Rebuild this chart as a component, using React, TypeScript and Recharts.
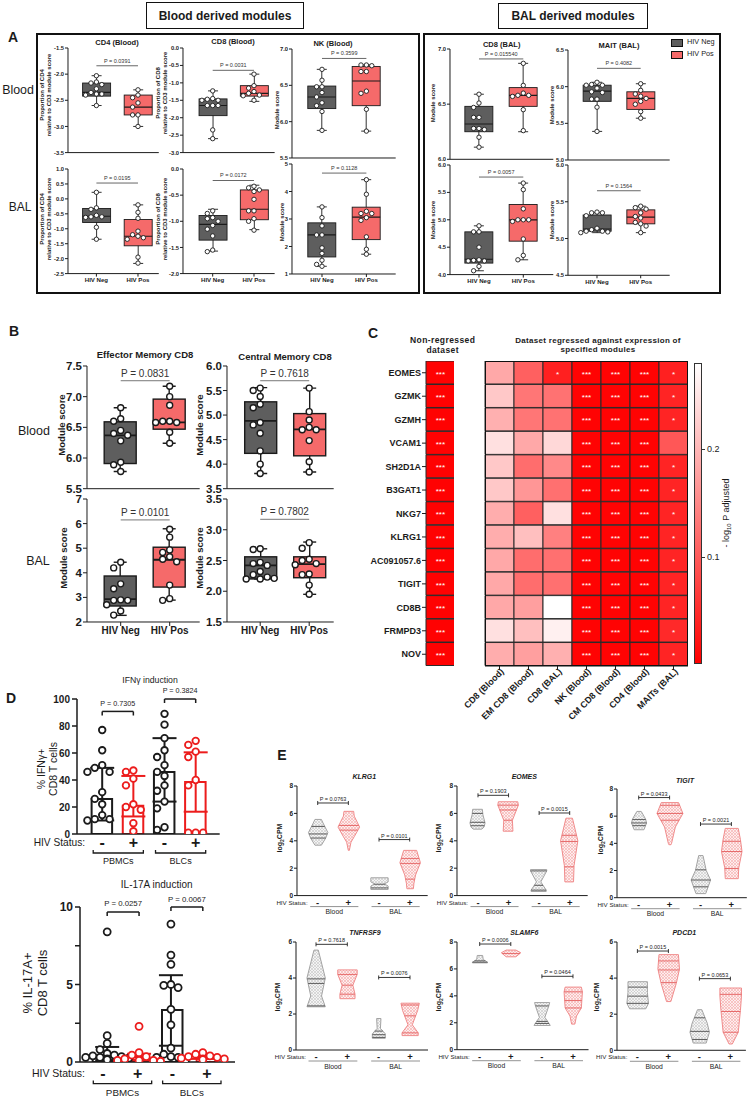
import React from 'react';
import {
  ComposedChart,
  BarChart,
  Bar,
  Scatter,
  XAxis,
  YAxis,
  ReferenceLine,
  ErrorBar,
  Cell,
  LabelList,
} from 'recharts';

const FONT = '"Liberation Sans", Arial, sans-serif';
const INK = '#1b1b1b';
const NEG_BOX = '#5e5e5e';
const POS_BOX = '#f56a6a';
const D_RED = '#ec1c1c';

// ---------- A: module scores, each group is [min, q1, median, q3, max] ----------
const groupsA = ['HIV Neg', 'HIV Pos'];

const cd4BloodStats = [[-2.6, -2.42, -2.35, -2.17, -2.03], [-3.0, -2.78, -2.63, -2.4, -2.3]];
const cd4BloodPts = [
  [-2.03, -2.15, -2.17, -2.2, -2.28, -2.35, -2.38, -2.38, -2.4, -2.6],
  [-2.3, -2.4, -2.45, -2.55, -2.63, -2.78, -2.78, -3.0],
];
const cd8BloodStats = [[-2.6, -1.94, -1.65, -1.46, -1.23], [-1.53, -1.38, -1.3, -1.08, -0.75]];
const cd8BloodPts = [
  [-1.23, -1.45, -1.47, -1.5, -1.5, -1.65, -1.65, -1.65, -2.35, -2.6],
  [-0.75, -1.08, -1.15, -1.25, -1.3, -1.35, -1.37, -1.5],
];
const nkBloodStats = [[5.88, 6.18, 6.34, 6.49, 6.72], [5.87, 6.22, 6.56, 6.76, 6.78]];
const nkBloodPts = [
  [6.72, 6.57, 6.48, 6.48, 6.4, 6.34, 6.26, 6.22, 6.14, 5.88],
  [6.78, 6.78, 6.77, 6.69, 6.69, 6.42, 6.39, 6.17, 5.87],
];
const cd4BalStats = [[-1.35, -0.79, -0.58, -0.32, 0.22], [-2.16, -1.57, -1.25, -0.69, -0.2]];
const cd4BalPts = [
  [0.22, -0.3, -0.35, -0.55, -0.6, -0.6, -0.62, -0.95, -1.35],
  [-0.2, -0.45, -0.65, -1.08, -1.2, -1.25, -1.3, -1.35, -1.95, -2.15],
];
const cd8BalStats = [[-1.57, -1.36, -1.06, -0.89, -0.77], [-1.16, -0.97, -0.77, -0.4, -0.31]];
const cd8BalPts = [
  [-0.8, -0.85, -0.93, -0.95, -1.0, -1.08, -1.15, -1.28, -1.55, -1.58],
  [-0.33, -0.36, -0.4, -0.43, -0.58, -0.8, -0.8, -0.95, -1.0, -1.17],
];
const nkBalStats = [[1.28, 1.62, 2.42, 2.86, 3.44], [1.72, 2.25, 3.07, 3.43, 4.43]];
const nkBalPts = [
  [3.44, 3.05, 2.75, 2.42, 2.42, 1.95, 1.75, 1.5, 1.35, 1.28],
  [4.43, 3.9, 3.28, 3.2, 3.2, 3.05, 2.95, 2.35, 1.9, 1.72],
];
const cd8ModBloodStats = [[6.11, 6.25, 6.32, 6.48, 6.59], [6.25, 6.48, 6.58, 6.65, 6.87]];
const cd8ModBloodPts = [
  [6.59, 6.51, 6.47, 6.38, 6.38, 6.28, 6.28, 6.27, 6.2, 6.11],
  [6.87, 6.67, 6.6, 6.58, 6.58, 6.57, 6.45, 6.26],
];
const maitBloodStats = [[5.39, 5.8, 5.94, 6.02, 6.06], [5.57, 5.69, 5.84, 5.93, 6.04]];
const maitBloodPts = [
  [6.06, 6.03, 6.02, 6.02, 5.98, 5.93, 5.92, 5.83, 5.83, 5.72, 5.39],
  [6.04, 5.95, 5.9, 5.87, 5.84, 5.8, 5.76, 5.66, 5.57],
];
const cd8ModBalStats = [[4.07, 4.21, 4.28, 4.78, 4.89], [4.27, 4.61, 5.0, 5.28, 5.67]];
const cd8ModBalPts = [
  [4.89, 4.78, 4.78, 4.5, 4.27, 4.26, 4.25, 4.25, 4.15, 4.07],
  [5.67, 5.55, 5.2, 5.0, 5.0, 5.0, 4.97, 4.65, 4.35, 4.27],
];
const maitBalStats = [[5.08, 5.1, 5.13, 5.32, 5.35], [5.08, 5.2, 5.29, 5.39, 5.44]];
const maitBalPts = [
  [5.36, 5.35, 5.35, 5.31, 5.14, 5.12, 5.1, 5.1, 5.09, 5.08],
  [5.44, 5.42, 5.4, 5.35, 5.3, 5.28, 5.22, 5.2, 5.17, 5.08],
];

// ---------- B: effector / central memory CD8 ----------
const emBloodStats = [[5.78, 5.91, 6.37, 6.59, 6.82], [6.24, 6.47, 6.58, 6.96, 7.17]];
const emBloodPts = [
  [6.82, 6.64, 6.6, 6.45, 6.4, 6.37, 6.28, 5.93, 5.89, 5.78],
  [7.17, 7.0, 6.86, 6.6, 6.6, 6.58, 6.58, 6.42, 6.24],
];
const cmBloodStats = [[3.81, 4.22, 4.88, 5.27, 5.56], [3.84, 4.17, 4.71, 5.03, 5.55]];
const cmBloodPts = [
  [5.55, 5.5, 5.38, 5.22, 5.15, 4.85, 4.8, 4.63, 4.27, 4.0, 3.81],
  [5.55, 5.07, 4.9, 4.75, 4.7, 4.7, 4.48, 4.05, 3.84],
];
const emBalStats = [[2.27, 2.65, 2.93, 3.87, 4.43], [2.89, 3.42, 4.53, 5.04, 5.79]];
const emBalPts = [
  [4.43, 4.2, 3.55, 3.35, 2.9, 2.88, 2.88, 2.7, 2.45, 2.28],
  [5.77, 5.45, 4.93, 4.83, 4.65, 4.55, 4.45, 3.5, 2.95, 2.88],
];
const cmBalStats = [[2.2, 2.2, 2.42, 2.56, 2.69], [1.95, 2.22, 2.44, 2.56, 2.8]];
const cmBalPts = [
  [2.69, 2.68, 2.47, 2.45, 2.42, 2.32, 2.27, 2.23, 2.2, 2.2, 2.21],
  [2.79, 2.7, 2.52, 2.5, 2.45, 2.43, 2.28, 2.27, 2.1, 1.95],
];

// ---------- C: heatmap ----------
const genes = ['EOMES', 'GZMK', 'GZMH', 'VCAM1', 'SH2D1A', 'B3GAT1', 'NKG7', 'KLRG1', 'AC091057.6', 'TIGIT', 'CD8B', 'FRMPD3', 'NOV'];
const modules = ['CD8 (Blood)', 'EM CD8 (Blood)', 'CD8 (BAL)', 'NK (Blood)', 'CM CD8 (Blood)', 'CD4 (Blood)', 'MAITs (BAL)'];
const pNonRegressed = [0.002, 0.002, 0.002, 0.002, 0.002, 0.002, 0.002, 0.002, 0.002, 0.002, 0.002, 0.002, 0.002];
const pCd8Blood = [0.185, 0.22, 0.193, 0.246, 0.22, 0.22, 0.19, 0.19, 0.185, 0.185, 0.185, 0.246, 0.19];
const pEmCd8Blood = [0.105, 0.13, 0.13, 0.185, 0.12, 0.165, 0.105, 0.21, 0.12, 0.12, 0.175, 0.21, 0.175];
const pCd8Bal = [0.035, 0.125, 0.125, 0.237, 0.15, 0.123, 0.246, 0.14, 0.123, 0.123, 0.28, 0.263, 0.193];
const pNkBlood = [0.003, 0.003, 0.003, 0.003, 0.003, 0.003, 0.003, 0.003, 0.003, 0.003, 0.003, 0.003, 0.003];
const pCmCd8Blood = [0.003, 0.003, 0.003, 0.003, 0.003, 0.003, 0.003, 0.003, 0.003, 0.003, 0.003, 0.003, 0.003];
const pCd4Blood = [0.003, 0.003, 0.003, 0.003, 0.003, 0.003, 0.003, 0.003, 0.003, 0.003, 0.003, 0.003, 0.003];
const pMaitBal = [0.035, 0.04, 0.04, 0.095, 0.04, 0.04, 0.04, 0.04, 0.04, 0.04, 0.04, 0.045, 0.04];
const starsNonRegressed = ['***', '***', '***', '***', '***', '***', '***', '***', '***', '***', '***', '***', '***'];
const starsNone = ['', '', '', '', '', '', '', '', '', '', '', '', ''];
const starsCd8Bal = ['*', '', '', '', '', '', '', '', '', '', '', '', ''];
const starsAll = ['***', '***', '***', '***', '***', '***', '***', '***', '***', '***', '***', '***', '***'];
const starsMait = ['*', '*', '*', '', '*', '*', '*', '*', '*', '*', '*', '*', '*'];
const moduleP = [pCd8Blood, pEmCd8Blood, pCd8Bal, pNkBlood, pCmCd8Blood, pCd4Blood, pMaitBal];
const moduleStars = [starsNone, starsNone, starsCd8Bal, starsAll, starsAll, starsAll, starsMait];
const HEAT_MAX = 0.28;

// ---------- D: cytokine induction ----------
const groupsD = ['PBMCs -', 'PBMCs +', 'BLCs -', 'BLCs +'];
const ifnMeans = [26, 21, 46, 38.5];
const ifnErr = [[16, 23], [8, 22], [22, 25], [22, 22]];
const ifnPts = [
  [77, 62, 51, 49, 46, 46, 31, 26, 22, 14, 11, 11, 10],
  [47, 46, 41, 36, 22, 20, 18, 8, 2],
  [89, 81, 71, 62, 57, 51, 46, 43, 36, 32, 24, 19, 5, 3],
  [69, 66, 61, 57, 40, 36, 1, 1, 1],
];
const il17Means = [0.42, 0.33, 3.35, 0.3];
const il17Err = [[0.3, 0.55], [0.2, 0.2], [2.3, 2.25], [0.1, 0.1]];
const il17Pts = [
  [8.4, 1.7, 1.2, 0.8, 0.55, 0.45, 0.4, 0.35, 0.3, 0.3, 0.25, 0.2, 0.15],
  [2.3, 0.6, 0.45, 0.35, 0.2, 0.1, 0.1, 0.1, 0.05],
  [8.9, 6.9, 6.3, 5.0, 4.95, 4.8, 3.4, 2.4, 0.9, 0.5, 0.35, 0.3, 0.3, 0.05],
  [0.6, 0.5, 0.4, 0.35, 0.3, 0.25, 0.2, 0.2, 0.15],
];

// ---------- E: violin profiles [log2CPM, relative width], quartile lines ----------
const groupsE = ['Blood -', 'Blood +', 'BAL -', 'BAL +'];
const klrg1Vio = [
  [[5.56, 0.3], [5.3, 0.45], [4.6, 0.9], [4.2, 0.7], [3.68, 0.3]],
  [[6.15, 0.45], [5.8, 0.5], [5.0, 1.0], [4.3, 0.5], [3.9, 0.2], [3.3, 0.05]],
  [[1.3, 0.8], [1.0, 0.8], [0.85, 0.45], [0.7, 0.8], [0.45, 0.8]],
  [[3.3, 0.6], [2.4, 0.95], [1.5, 0.5], [0.9, 0.35], [0.5, 0.3]],
];
const klrg1Q = [[4.2, 4.5, 5.05], [4.78, 5.12], [0.56, 0.83], [1.2, 2.35, 2.7]];
const eomesVio = [
  [[6.3, 0.45], [5.9, 0.5], [5.3, 0.7], [5.0, 0.6], [4.85, 0.4]],
  [[6.85, 0.9], [6.6, 0.95], [5.5, 0.4], [4.7, 0.45]],
  [[1.9, 0.75], [1.8, 0.75], [1.0, 0.2], [0.4, 0.7], [0.3, 0.7]],
  [[5.65, 0.3], [4.0, 0.8], [2.2, 0.45], [1.0, 0.4]],
];
const eomesQ = [[5.1, 5.35, 6.0], [5.5, 6.25, 6.6], [0.4, 0.75, 1.8], [2.1, 3.95, 4.4]];
const tigitVio = [
  [[6.35, 0.2], [5.8, 0.6], [5.5, 0.7], [5.0, 0.45]],
  [[7.0, 0.8], [6.2, 1.2], [5.2, 0.5], [4.0, 0.15], [3.9, 0.1]],
  [[3.1, 0.2], [2.0, 0.5], [1.3, 0.9], [0.3, 0.45]],
  [[5.1, 0.6], [4.3, 0.8], [3.4, 0.95], [2.2, 0.65], [1.4, 0.6]],
];
const tigitQ = [[5.3, 5.5, 5.75], [5.7, 6.2, 6.8], [0.8, 1.3, 2.05], [2.15, 3.4, 4.15]];
const tnfrsf9Vio = [
  [[5.55, 0.2], [4.0, 0.85], [3.0, 0.5], [2.4, 0.85]],
  [[4.45, 0.9], [4.2, 0.9], [3.6, 0.5], [3.1, 0.7], [2.85, 0.7]],
  [[1.75, 0.2], [1.2, 0.15], [0.9, 0.6], [0.65, 0.6]],
  [[2.6, 0.85], [2.2, 0.7], [1.4, 0.2], [0.95, 0.75], [0.8, 0.75]],
];
const tnfrsf9Q = [[2.45, 3.7, 3.95], [3.1, 3.6, 4.2], [0.7, 0.85, 1.05], [0.95, 1.9, 2.5]];
const slamf6Vio = [
  [[7.0, 0.25], [6.7, 0.3], [6.5, 0.7], [6.45, 0.7]],
  [[7.4, 0.45], [7.2, 0.9], [6.9, 0.45]],
  [[3.5, 0.7], [3.2, 0.6], [2.4, 0.25], [2.0, 0.6], [1.8, 0.75]],
  [[4.65, 0.75], [4.3, 0.85], [3.1, 0.75], [2.5, 0.3], [1.9, 0.15]],
];
const slamf6Q = [[6.5, 6.6], [7.15], [1.95, 2.1, 3.25], [3.1, 3.65, 4.3]];
const pdcd1Vio = [
  [[3.8, 0.9], [3.2, 0.9], [2.6, 1.0], [2.3, 0.75]],
  [[5.3, 0.9], [4.5, 1.0], [3.7, 0.7], [2.7, 0.2]],
  [[2.25, 0.2], [1.5, 0.7], [1.0, 0.9], [0.4, 0.6]],
  [[3.45, 1.0], [3.0, 1.0], [2.2, 0.9], [1.0, 0.7], [0.35, 0.15]],
];
const pdcd1Q = [[2.6, 3.0, 3.5], [3.75, 4.45, 4.95], [0.6, 1.05, 1.8], [1.0, 2.15, 3.1]];

// ---------- helpers ----------
function bandLayout(x0: number, c: number[], end: number) {
  const n = c.length;
  const band = (c[n - 1] - c[0]) / (n - 1);
  const pl = Math.max(0, c[0] - x0 - band / 2);
  const x1 = Math.max(end, c[n - 1] + band / 2);
  const pr = x1 - (c[n - 1] + band / 2);
  return { band, pl, pr, x1 };
}

// simple beeswarm: nudge overlapping points sideways
function swarm(vals: number[], center: number, dy: number, dx: number) {
  const placed: { x: number; y: number }[] = [];
  const steps = [0, -1, 1, -2, 2, -3, 3];
  vals.forEach((v) => {
    const k =
      steps.find(
        (s) => !placed.some((p) => Math.abs(p.y - v) < dy && Math.abs(p.x - (center + s * dx)) < dx * 0.95)
      ) ?? 0;
    placed.push({ x: center + k * dx, y: v });
  });
  return placed;
}

function T(props: any) {
  const { x, y, s, b, it, r, a = 'c', ls, c = INK, children } = props;
  const tx = a === 'c' ? '-50%' : a === 'r' ? '-100%' : '0%';
  return (
    <div
      style={{
        position: 'absolute',
        left: x,
        top: y,
        transform: `translate(${tx}, -50%)${r ? ' rotate(-90deg)' : ''}`,
        fontSize: s,
        fontWeight: b ? 700 : 400,
        fontStyle: it ? 'italic' : 'normal',
        letterSpacing: ls,
        color: c,
        whiteSpace: 'nowrap',
        lineHeight: 1.15,
        textAlign: 'center',
      }}
    >
      {children}
    </div>
  );
}

const bracket = (text: string, o: any) => (lp: any) => {
  const { x1, x2, y1 } = lp;
  return (
    <g>
      <line x1={x1} x2={x2} y1={y1} y2={y1} stroke={o.color} strokeWidth={o.sw} />
      {o.caps && (
        <path
          d={`M${x1},${y1 - o.capUp}V${y1 + o.capDown}M${x2},${y1 - o.capUp}V${y1 + o.capDown}`}
          stroke={o.color}
          strokeWidth={o.sw}
        />
      )}
      <text x={(x1 + x2) / 2} y={y1 - o.gap} textAnchor="middle" fontSize={o.fs} fill={o.textColor} fontFamily={FONT}>
        {text}
      </text>
    </g>
  );
};

const dot = (r: number, stroke: string, sw: number) => (p: any) =>
  <circle cx={p.cx} cy={p.cy} r={r} fill="#fff" stroke={stroke} strokeWidth={sw} />;

const statusTick = (o: any) => (p: any) => {
  const { x, y, index } = p;
  const plus = index % 2 === 1;
  const gy = y + o.grpY;
  const xa = x - o.band - o.grpL;
  const xb = x + o.grpR;
  return (
    <g fontFamily={FONT}>
      <text x={x} y={y + o.signDy} textAnchor="middle" dominantBaseline="central" fontSize={o.signFs} fontWeight={700} fill={INK}>
        {plus ? '+' : '-'}
      </text>
      {index === 0 && (
        <text x={x - o.statusDx} y={y + o.signDy} textAnchor="end" dominantBaseline="central" fontSize={o.statusFs} fill={INK}>
          HIV Status:
        </text>
      )}
      {plus && (
        <g>
          <path d={`M${xa},${gy - o.cap}V${gy}H${xb}V${gy - o.cap}`} fill="none" stroke={o.lineColor} strokeWidth={o.lineW} />
          <text x={(xa + xb) / 2} y={y + o.grpLblY} textAnchor="middle" dominantBaseline="central" fontSize={o.grpFs} fill={INK}>
            {o.groups[(index - 1) / 2]}
          </text>
        </g>
      )}
    </g>
  );
};

// ---------- box plot (A, B) ----------
const STYLE_A = { fs: 5.8, xfs: 6.1, pfs: 5.5, pGap: 3.2, boxW: 28, capW: 10, r: 2.2, sw: 0.9, yw: 30, xh: 12, tickSize: 3, pColor: '#666' };
const STYLE_B = { fs: 11.5, xfs: 10, pfs: 10, pGap: 4, boxW: 32, capW: 13, r: 3, sw: 1.4, yw: 40, xh: 20, tickSize: 4, pColor: '#777' };

const boxShape = (st: any) => (props: any) => {
  const { x, y, width, height, payload } = props;
  const [mn, q1, md, q3, mx] = payload.stats;
  const top = Math.min(y, y + height);
  const h = Math.abs(height);
  const py = (v: number) => top + (h * (mx - v)) / (mx - mn || 1);
  const cx = x + width / 2;
  return (
    <g stroke={INK} strokeWidth={st.sw}>
      <line x1={cx} x2={cx} y1={py(mx)} y2={py(mn)} />
      <line x1={cx - st.capW / 2} x2={cx + st.capW / 2} y1={py(mx)} y2={py(mx)} />
      <line x1={cx - st.capW / 2} x2={cx + st.capW / 2} y1={py(mn)} y2={py(mn)} />
      <rect x={x} y={py(q3)} width={width} height={Math.max(0.5, py(q1) - py(q3))} fill={payload.fill} />
      <line x1={x} x2={x + width} y1={py(md)} y2={py(md)} strokeWidth={st.sw * 1.3} />
    </g>
  );
};

function BoxPlot(b: any) {
  const st = b.st;
  const { band, pl, pr, x1 } = bandLayout(b.x0, b.c, b.end);
  const mt = 14;
  const mr = 4;
  const span = b.domain[1] - b.domain[0];
  const dy = ((2 * st.r + 0.4) / (b.yBot - b.yTop)) * span;
  const dx = (2 * st.r + 1) / band;
  const data = groupsA.map((name, i) => ({
    name,
    range: [b.stats[i][0], b.stats[i][4]],
    stats: b.stats[i],
    fill: i ? POS_BOX : NEG_BOX,
  }));
  const dots = b.pts.flatMap((vals: number[], i: number) => swarm(vals, i + 0.5, dy, dx));
  return (
    <div style={{ position: 'absolute', left: b.x0 - st.yw, top: b.yTop - mt }}>
      <ComposedChart
        width={st.yw + (x1 - b.x0) + mr}
        height={mt + (b.yBot - b.yTop) + st.xh}
        data={data}
        margin={{ top: mt, right: mr, bottom: 0, left: 0 }}
      >
        <XAxis
          dataKey="name"
          padding={{ left: pl, right: pr }}
          height={st.xh}
          stroke={INK}
          tickSize={st.tickSize}
          tickMargin={1}
          interval={0}
          tick={b.showX ? { fontSize: st.xfs, fontWeight: 700, fill: INK, fontFamily: FONT } : false}
        />
        <XAxis xAxisId="j" type="number" dataKey="x" domain={[0, 2]} padding={{ left: pl, right: pr }} hide />
        <YAxis
          type="number"
          domain={b.domain}
          ticks={b.ticks}
          interval={0}
          allowDataOverflow
          width={st.yw}
          stroke={INK}
          tickSize={st.tickSize}
          tickMargin={1}
          tick={{ fontSize: st.fs, fontWeight: 700, fill: INK, fontFamily: FONT }}
          tickFormatter={(v: number) => v.toFixed(b.dec)}
        />
        <Bar dataKey="range" barSize={st.boxW} shape={boxShape(st)} isAnimationActive={false} />
        <Scatter xAxisId="j" data={dots} dataKey="y" shape={dot(st.r, INK, st.sw)} isAnimationActive={false} />
        <ReferenceLine
          xAxisId="j"
          ifOverflow="visible"
          segment={[{ x: 0.5, y: b.pY }, { x: 1.5, y: b.pY }]}
          shape={bracket(b.p, { color: st.pColor, sw: 1, gap: st.pGap, fs: st.pfs, textColor: '#333', caps: false })}
        />
      </ComposedChart>
    </div>
  );
}

// ---------- D: bars with dots ----------
function DotBar(d: any) {
  const { band, pl, pr, x1 } = bandLayout(d.x0, d.c, d.end);
  const yw = 62;
  const mt = 18;
  const xh = 40;
  const mr = 4;
  const pxY = (d.yBot - d.yTop) / (d.domain[1] - d.domain[0]);
  const dy = (2 * d.r + 0.6) / pxY;
  const dx = (2 * d.r + 0.8) / band;
  const data = groupsD.map((cat, i) => ({ cat, mean: d.means[i] }));
  const errNeg = [0, 2].map((i) => ({ x: i + 0.5, y: d.means[i], e: d.errs[i] }));
  const errPos = [1, 3].map((i) => ({ x: i + 0.5, y: d.means[i], e: d.errs[i] }));
  const negDots = [0, 2].flatMap((i) => swarm(d.pts[i], i + 0.5, dy, dx));
  const posDots = [1, 3].flatMap((i) => swarm(d.pts[i], i + 0.5, dy, dx));
  const tickOpts = { ...d.tick, band };
  return (
    <div style={{ position: 'absolute', left: d.x0 - yw, top: d.yTop - mt }}>
      <ComposedChart
        width={yw + (x1 - d.x0) + mr}
        height={mt + (d.yBot - d.yTop) + xh}
        data={data}
        margin={{ top: mt, right: mr, bottom: 0, left: 0 }}
      >
        <XAxis
          dataKey="cat"
          padding={{ left: pl, right: pr }}
          height={xh}
          stroke={INK}
          strokeWidth={1.5}
          tickLine={false}
          tickSize={0}
          tickMargin={0}
          interval={0}
          tick={statusTick(tickOpts)}
        />
        <XAxis xAxisId="j" type="number" dataKey="x" domain={[0, 4]} padding={{ left: pl, right: pr }} hide />
        <YAxis
          type="number"
          domain={d.domain}
          ticks={d.ticks}
          interval={0}
          allowDataOverflow
          width={yw}
          stroke={INK}
          strokeWidth={1.5}
          tickSize={5}
          tickMargin={2}
          tick={{ fontSize: d.tfs, fontWeight: 700, fill: INK, fontFamily: FONT }}
          tickFormatter={(v: number) => (d.labelTicks.includes(v) ? String(v) : '')}
        />
        <Bar dataKey="mean" barSize={20.5} isAnimationActive={false}>
          {data.map((row, i) => (
            <Cell key={row.cat} fill="#fff" stroke={i % 2 ? D_RED : INK} strokeWidth={2} />
          ))}
        </Bar>
        <Scatter xAxisId="j" data={negDots} dataKey="y" shape={dot(d.r, INK, 1.8)} isAnimationActive={false} />
        <Scatter xAxisId="j" data={posDots} dataKey="y" shape={dot(d.r, D_RED, 1.8)} isAnimationActive={false} />
        <Scatter xAxisId="j" data={errNeg} dataKey="y" shape={() => <g />} isAnimationActive={false}>
          <ErrorBar dataKey="e" direction="y" width={12} strokeWidth={2} stroke={INK} />
        </Scatter>
        <Scatter xAxisId="j" data={errPos} dataKey="y" shape={() => <g />} isAnimationActive={false}>
          <ErrorBar dataKey="e" direction="y" width={12} strokeWidth={2} stroke={D_RED} />
        </Scatter>
        {d.brackets.map((br: any[]) => (
          <ReferenceLine
            key={br[0]}
            xAxisId="j"
            ifOverflow="visible"
            segment={[{ x: br[2], y: br[1] }, { x: br[3], y: br[1] }]}
            shape={bracket(br[0], { color: INK, sw: 1.5, gap: 5.5, fs: d.bfs, textColor: INK, caps: true, capUp: 0, capDown: 4 })}
          />
        ))}
      </ComposedChart>
    </div>
  );
}

// ---------- E: violins ----------
const VIO_HW = 10.8;

const violinShape = (props: any) => {
  const { x, y, width, height, payload } = props;
  const prof: number[][] = payload.prof;
  const mx = prof[0][0];
  const mn = prof[prof.length - 1][0];
  const top = Math.min(y, y + height);
  const h = Math.abs(height);
  const py = (v: number) => top + (h * (mx - v)) / (mx - mn || 1);
  const cx = x + width / 2;
  const hw = VIO_HW;
  const right = prof.map(([v, w]) => `${cx + w * hw},${py(v)}`);
  const left = prof
    .slice()
    .reverse()
    .map(([v, w]) => `${cx - w * hw},${py(v)}`);
  const wAt = (v: number) => {
    for (let k = 0; k < prof.length - 1; k++) {
      const [va, wa] = prof[k];
      const [vb, wb] = prof[k + 1];
      if (v <= va && v >= vb) return wa + ((wb - wa) * (va - v)) / (va - vb || 1);
    }
    return 0;
  };
  const pos = payload.pos;
  return (
    <g>
      <polygon
        points={[...right, ...left].join(' ')}
        fill={`url(#${pos ? 'hatchPos' : 'hatchNeg'})`}
        stroke={pos ? '#f08c8c' : '#a3a3a3'}
        strokeWidth={1}
      />
      {payload.q.map((v: number) => (
        <line
          key={v}
          x1={cx - wAt(v) * hw}
          x2={cx + wAt(v) * hw}
          y1={py(v)}
          y2={py(v)}
          stroke={pos ? '#e66a6a' : '#5a5a5a'}
          strokeWidth={1}
        />
      ))}
    </g>
  );
};

const E_TICK = {
  signFs: 9.5,
  signDy: 6.5,
  statusFs: 6.2,
  statusDx: 10,
  grpY: 11,
  grpLblY: 16,
  grpFs: 6.8,
  grpL: 7.5,
  grpR: 10,
  cap: 0,
  lineColor: '#777',
  lineW: 0.8,
  groups: ['Blood', 'BAL'],
};

function ViolinPlot(v: any) {
  const { band, pl, pr, x1 } = bandLayout(v.x0, v.c, v.end);
  const yw = 32;
  const mt = 12;
  const xh = 24;
  const mr = 2;
  const data = groupsE.map((cat, i) => ({
    cat,
    range: [v.prof[i][v.prof[i].length - 1][0], v.prof[i][0][0]],
    prof: v.prof[i],
    q: v.q[i],
    pos: i % 2 === 1,
  }));
  return (
    <div style={{ position: 'absolute', left: v.x0 - yw, top: v.yTop - mt }}>
      <ComposedChart
        width={yw + (x1 - v.x0) + mr}
        height={mt + (v.yBot - v.yTop) + xh}
        data={data}
        margin={{ top: mt, right: mr, bottom: 0, left: 0 }}
      >
        <XAxis
          dataKey="cat"
          padding={{ left: pl, right: pr }}
          height={xh}
          stroke={INK}
          tickLine={false}
          tickSize={0}
          tickMargin={0}
          interval={0}
          tick={statusTick({ ...E_TICK, band })}
        />
        <YAxis
          type="number"
          domain={v.domain}
          ticks={v.ticks}
          interval={0}
          allowDataOverflow
          width={yw}
          stroke={INK}
          tickSize={3}
          tickMargin={1}
          tick={{ fontSize: 6.5, fontWeight: 700, fill: INK, fontFamily: FONT }}
        />
        <Bar dataKey="range" barSize={2 * VIO_HW} shape={violinShape} isAnimationActive={false} />
        {v.br.map((br: any[], k: number) => (
          <ReferenceLine
            key={br[0]}
            ifOverflow="visible"
            segment={[{ x: groupsE[2 * k], y: br[1] }, { x: groupsE[2 * k + 1], y: br[1] }]}
            shape={bracket(br[0], { color: '#222', sw: 0.9, gap: 2, fs: 5.5, textColor: INK, caps: true, capUp: 2, capDown: 2 })}
          />
        ))}
      </ComposedChart>
    </div>
  );
}

// ---------- C: heatmap ----------
const heat = (v: number) => {
  const t = Math.max(0, Math.min(1, v / HEAT_MAX));
  const g = Math.round(255 * t);
  return `rgb(255,${g},${g})`;
};

const starLabel = (stars: string[]) => (p: any) => {
  const s = stars[p.index];
  if (!s) return null;
  return (
    <text x={p.x + p.width / 2} y={p.y + p.height / 2 + 4} textAnchor="middle" fontSize={8} fill="#fff" fontFamily={FONT}>
      {s}
    </text>
  );
};

const HEAT_TOP = 361;
const HEAT_H = 305;
const HEAT_LEFT = 485;
const HEAT_PAD = 50;

function HeatNonRegressed() {
  const rows = genes.map((gene, i) => ({ gene, cell: 1, p: pNonRegressed[i] }));
  const yw = 62;
  return (
    <div style={{ position: 'absolute', left: 425.7 - yw, top: HEAT_TOP }}>
      <BarChart layout="vertical" width={yw + 28.7} height={HEAT_H} data={rows} margin={{ top: 0, right: 0, bottom: 0, left: 0 }} barCategoryGap={0}>
        <XAxis type="number" domain={[0, 1]} hide />
        <YAxis
          type="category"
          dataKey="gene"
          width={yw}
          interval={0}
          axisLine={false}
          stroke={INK}
          tickSize={4}
          tickMargin={1}
          tick={{ fontSize: 9, fontWeight: 700, fill: INK, fontFamily: FONT }}
        />
        <Bar dataKey="cell" isAnimationActive={false}>
          {rows.map((r) => (
            <Cell key={r.gene} fill={heat(r.p)} stroke="#2a2a2a" strokeWidth={1} />
          ))}
          <LabelList content={starLabel(starsNonRegressed)} />
        </Bar>
      </BarChart>
    </div>
  );
}

const moduleTick = (p: any) => (
  <g transform={`translate(${p.x},${p.y})`}>
    <text x={0} y={0} dy={5} dx={2} textAnchor="end" transform="rotate(-45)" fontSize={9} fontWeight={700} fill={INK} fontFamily={FONT}>
      {modules[Math.floor(p.payload.value)]}
    </text>
  </g>
);

function HeatRegressed() {
  const rows = genes.map((gene) => {
    const row: any = { gene };
    modules.forEach((_, k) => {
      row[`m${k}`] = 1;
    });
    return row;
  });
  return (
    <div style={{ position: 'absolute', left: HEAT_LEFT - HEAT_PAD, top: HEAT_TOP }}>
      <BarChart
        layout="vertical"
        width={203 + HEAT_PAD}
        height={HEAT_H + 80}
        data={rows}
        margin={{ top: 0, right: 0, bottom: 0, left: HEAT_PAD }}
        barCategoryGap={0}
      >
        <YAxis type="category" dataKey="gene" hide />
        <XAxis
          type="number"
          domain={[0, 7]}
          ticks={[0.5, 1.5, 2.5, 3.5, 4.5, 5.5, 6.5]}
          interval={0}
          height={80}
          stroke={INK}
          tickSize={4}
          tickMargin={0}
          tick={moduleTick}
        />
        {modules.map((m, k) => (
          <Bar key={m} dataKey={`m${k}`} stackId="h" isAnimationActive={false}>
            {genes.map((g, i) => (
              <Cell key={g} fill={heat(moduleP[k][i])} stroke="#2a2a2a" strokeWidth={1} />
            ))}
            <LabelList content={starLabel(moduleStars[k])} />
          </Bar>
        ))}
      </BarChart>
    </div>
  );
}

function Legend() {
  const sw = (top: number, fill: string) => (
    <div style={{ position: 'absolute', left: 671, top, width: 10, height: 6, background: fill, border: '1px solid #111' }} />
  );
  return (
    <>
      {sw(38.5, NEG_BOX)}
      <T x={687} y={41.7} s={7.3} a="l">HIV Neg</T>
      {sw(51, POS_BOX)}
      <T x={687} y={54} s={7.3} a="l">HIV Pos</T>
    </>
  );
}

function Colorbar() {
  const top = 363.3;
  const h = 300.7;
  const yOf = (v: number) => top + h * (1 - v / HEAT_MAX);
  return (
    <>
      <div
        style={{
          position: 'absolute',
          left: 694,
          top,
          width: 8,
          height: h,
          boxSizing: 'border-box',
          border: '1px solid #333',
          background: 'linear-gradient(to bottom, #ffffff, #ff0000)',
        }}
      />
      {[0.2, 0.1].map((v) => (
        <React.Fragment key={v}>
          <div style={{ position: 'absolute', left: 702, top: yOf(v), width: 3, height: 1, background: '#333' }} />
          <T x={707} y={yOf(v)} s={9} a="l">{v.toFixed(1)}</T>
        </React.Fragment>
      ))}
      <T x={727} y={513} s={9} r>
        - log<sub style={{ fontSize: 6 }}>10</sub> P adjusted
      </T>
    </>
  );
}

const frame = (left: number, top: number, width: number, height: number, bw: number) => ({
  position: 'absolute' as const,
  left,
  top,
  width,
  height,
  boxSizing: 'border-box' as const,
  border: `${bw}px solid #111`,
});

export default function App() {
  const ticksE8 = [0, 2, 4, 6, 8];
  const ticksE6 = [0, 2, 4, 6];
  return (
    <div style={{ position: 'absolute', left: 0, top: 0, width: 750, height: 1098, background: '#fff', fontFamily: FONT, color: INK, overflow: 'hidden' }}>
      <svg width={0} height={0} style={{ position: 'absolute' }}>
        <defs>
          <pattern id="hatchNeg" width="3" height="3" patternUnits="userSpaceOnUse">
            <rect width="3" height="3" fill="#f4f4f4" />
            <path d="M0,0L3,3M3,0L0,3" stroke="#c4c4c4" strokeWidth="0.6" />
          </pattern>
          <pattern id="hatchPos" width="3" height="3" patternUnits="userSpaceOnUse">
            <rect width="3" height="3" fill="#fdeeee" />
            <path d="M0,0L3,3M3,0L0,3" stroke="#f5a9a9" strokeWidth="0.6" />
          </pattern>
        </defs>
      </svg>

      {/* ---------- A ---------- */}
      <div style={{ ...frame(146, 2, 158, 27, 1.5), display: 'flex', alignItems: 'center', justifyContent: 'center', fontWeight: 700, fontSize: 12 }}>
        Blood derived modules
      </div>
      <div style={{ ...frame(498, 3, 150, 26, 1.5), display: 'flex', alignItems: 'center', justifyContent: 'center', fontWeight: 700, fontSize: 12 }}>
        BAL derived modules
      </div>
      <div style={frame(36, 33, 383.5, 260.5, 2)} />
      <div style={frame(422.5, 33, 298.5, 261, 2)} />
      <T x={13} y={37} s={14} b>A</T>
      <T x={18} y={90} s={12.4}>Blood</T>
      <T x={20} y={208} s={12}>BAL</T>

      <T x={117} y={42.7} s={7.5} b>CD4 (Blood)</T>
      <T x={233} y={42} s={7.5} b>CD8 (Blood)</T>
      <T x={333} y={44.3} s={7.5} b>NK (Blood)</T>
      <T x={501.7} y={45} s={7.5} b>CD8 (BAL)</T>
      <T x={619} y={46} s={7.5} b>MAIT (BAL)</T>

      <T x={45.5} y={95} s={6} b r>Proportion of CD4<br />relative to CD3 module score</T>
      <T x={162} y={93} s={6} b r>Proportion of CD8<br />relative to CD3 module score</T>
      <T x={276.5} y={110} s={6} b r>Module score</T>
      <T x={45.5} y={219} s={6} b r>Proportion of CD4<br />relative to CD3 module score</T>
      <T x={162} y={219} s={6} b r>Proportion of CD8<br />relative to CD3 module score</T>
      <T x={281.5} y={222} s={6} b r>Module score</T>
      <T x={432.7} y={103} s={6} b r>Module score</T>
      <T x={551.7} y={105} s={6} b r>Module score</T>
      <T x={432.7} y={220} s={6} b r>Module score</T>
      <T x={551.7} y={220} s={6} b r>Module score</T>
      <Legend />

      <BoxPlot st={STYLE_A} x0={68.3} c={[96.7, 138.3]} end={155} yTop={47.7} yBot={152.3} domain={[-3.5, -1.5]} ticks={[-3.5, -3, -2.5, -2, -1.5]} dec={1} stats={cd4BloodStats} pts={cd4BloodPts} p="P = 0.0391" pY={-1.84} showX={false} />
      <BoxPlot st={STYLE_A} x0={183.3} c={[213, 254.3]} end={274} yTop={47.7} yBot={152.3} domain={[-3, 0]} ticks={[-3, -2.5, -2, -1.5, -1, -0.5, 0]} dec={1} stats={cd8BloodStats} pts={cd8BloodPts} p="P = 0.0031" pY={-0.64} showX={false} />
      <BoxPlot st={STYLE_A} x0={292.3} c={[322.3, 366.7]} end={396} yTop={49.3} yBot={158.3} domain={[5.5, 7]} ticks={[5.5, 6, 6.5, 7]} dec={1} stats={nkBloodStats} pts={nkBloodPts} p="P = 0.3599" pY={6.87} showX={false} />
      <BoxPlot st={STYLE_A} x0={68.3} c={[96.7, 138.3]} end={155} yTop={168.7} yBot={273.3} domain={[-2.5, 1]} ticks={[-2.5, -2, -1.5, -1, -0.5, 0, 0.5, 1]} dec={1} stats={cd4BalStats} pts={cd4BalPts} p="P = 0.0195" pY={0.53} showX />
      <BoxPlot st={STYLE_A} x0={183.3} c={[213, 254.3]} end={274} yTop={168.7} yBot={273.3} domain={[-2, 0]} ticks={[-2, -1.5, -1, -0.5, 0]} dec={1} stats={cd8BalStats} pts={cd8BalPts} p="P = 0.0172" pY={-0.22} showX />
      <BoxPlot st={STYLE_A} x0={292.3} c={[322.3, 366.7]} end={396} yTop={164.3} yBot={274.3} domain={[1, 5]} ticks={[1, 2, 3, 4, 5]} dec={0} stats={nkBalStats} pts={nkBalPts} p="P = 0.1128" pY={4.67} showX />
      <BoxPlot st={STYLE_A} x0={450} c={[479, 523.3]} end={553.3} yTop={49} yBot={159.3} domain={[6, 7]} ticks={[6, 6.5, 7]} dec={1} stats={cd8ModBloodStats} pts={cd8ModBloodPts} p="P = 0.015540" pY={6.91} showX={false} />
      <BoxPlot st={STYLE_A} x0={568.3} c={[597.3, 641]} end={670} yTop={50} yBot={160} domain={[5, 6.5]} ticks={[5, 5.5, 6, 6.5]} dec={1} stats={maitBloodStats} pts={maitBloodPts} p="P = 0.4082" pY={6.25} showX={false} />
      <BoxPlot st={STYLE_A} x0={450} c={[479, 523.3]} end={553.3} yTop={164.7} yBot={274.3} domain={[4, 6]} ticks={[4, 4.5, 5, 5.5, 6]} dec={1} stats={cd8ModBalStats} pts={cd8ModBalPts} p="P = 0.0057" pY={5.78} showX />
      <BoxPlot st={STYLE_A} x0={568.3} c={[597.3, 641]} end={670} yTop={164.7} yBot={275} domain={[4.5, 6]} ticks={[4.5, 5, 5.5, 6]} dec={1} stats={maitBalStats} pts={maitBalPts} p="P = 0.1564" pY={5.65} showX />

      {/* ---------- B ---------- */}
      <T x={14} y={331} s={14} b>B</T>
      <T x={145} y={355} s={9.5} b>Effector Memory CD8</T>
      <T x={285} y={357} s={9.5} b>Central Memory CD8</T>
      <T x={34} y={430.7} s={12.5}>Blood</T>
      <T x={38} y={561} s={12.5}>BAL</T>
      <T x={62} y={425} s={9.5} b r>Module score</T>
      <T x={200} y={425} s={9.5} b r>Module score</T>
      <T x={64} y={558} s={9.5} b r>Module score</T>
      <T x={200} y={558} s={9.5} b r>Module score</T>
      <BoxPlot st={STYLE_B} x0={87.3} c={[121, 170]} end={200} yTop={366} yBot={488.7} domain={[5.5, 7.5]} ticks={[5.5, 6, 6.5, 7, 7.5]} dec={1} stats={emBloodStats} pts={emBloodPts} p="P = 0.0831" pY={7.26} showX={false} />
      <BoxPlot st={STYLE_B} x0={227.3} c={[260.5, 309.5]} end={330} yTop={366} yBot={488.7} domain={[3.5, 6]} ticks={[3.5, 4, 4.5, 5, 5.5, 6]} dec={1} stats={cmBloodStats} pts={cmBloodPts} p="P = 0.7618" pY={5.7} showX={false} />
      <BoxPlot st={STYLE_B} x0={87.3} c={[121, 170]} end={200} yTop={499} yBot={622} domain={[2, 7]} ticks={[2, 3, 4, 5, 6, 7]} dec={0} stats={emBalStats} pts={emBalPts} p="P = 0.0101" pY={6.15} showX />
      <BoxPlot st={STYLE_B} x0={227.3} c={[260.5, 309.5]} end={330} yTop={499} yBot={622} domain={[1.5, 3.5]} ticks={[1.5, 2, 2.5, 3, 3.5]} dec={1} stats={cmBalStats} pts={cmBalPts} p="P = 0.7802" pY={3.17} showX />

      {/* ---------- C ---------- */}
      <T x={373} y={333} s={14} b>C</T>
      <T x={442.7} y={346} s={8.5} b ls={0.4}>Non-regressed<br />dataset</T>
      <T x={598} y={345} s={8} b ls={0.3}>Dataset regressed against expression of<br />specified modules</T>
      <HeatNonRegressed />
      <HeatRegressed />
      <div style={frame(HEAT_LEFT, HEAT_TOP, 203, HEAT_H, 1.5)} />
      <Colorbar />

      {/* ---------- D ---------- */}
      <T x={11} y={698} s={14} b>D</T>
      <T x={150} y={680} s={8.7}>IFNγ induction</T>
      <T x={47} y={769} s={10.5} r>% IFNγ+<br />CD8 T cells</T>
      <DotBar
        x0={77.3}
        c={[102.5, 133.7, 165, 196]}
        end={220}
        yTop={699.3}
        yBot={834.3}
        domain={[0, 100]}
        ticks={[0, 20, 40, 60, 80, 100]}
        labelTicks={[0, 20, 40, 60, 80, 100]}
        tfs={10}
        means={ifnMeans}
        errs={ifnErr}
        pts={ifnPts}
        r={3.3}
        bfs={7.2}
        brackets={[['P = 0.7305', 90.8, 0.5, 1.5], ['P = 0.3824', 100, 2.5, 3.5]]}
        tick={{ signFs: 16, signDy: 9, statusFs: 10.2, statusDx: 17, grpY: 19, grpLblY: 27.4, grpFs: 9.1, grpL: 9, grpR: 10, cap: 3, lineColor: INK, lineW: 1.3, groups: ['PBMCs', 'BLCs'] }}
      />
      <T x={156.7} y={885} s={10}>IL-17A induction</T>
      <T x={36} y={983} s={13} r>% IL-17A+<br />CD8 T cells</T>
      <DotBar
        x0={80}
        c={[103, 135, 173, 207]}
        end={235}
        yTop={906.7}
        yBot={1061.7}
        domain={[0, 10]}
        ticks={[0, 2.5, 5, 7.5, 10]}
        labelTicks={[0, 5, 10]}
        tfs={12}
        means={il17Means}
        errs={il17Err}
        pts={il17Pts}
        r={3.5}
        bfs={7.8}
        brackets={[['P = 0.0257', 9.68, 0.5, 1.5], ['P = 0.0067', 10, 2.5, 3.5]]}
        tick={{ signFs: 16, signDy: 11.2, statusFs: 10.5, statusDx: 18, grpY: 21.6, grpLblY: 30, grpFs: 9.8, grpL: 9.7, grpR: 14, cap: 3, lineColor: INK, lineW: 1.3, groups: ['PBMCs', 'BLCs'] }}
      />

      {/* ---------- E ---------- */}
      <T x={282} y={755} s={14} b>E</T>
      <T x={364.3} y={776.7} s={7} b it>KLRG1</T>
      <T x={524.3} y={776.7} s={7} b it>EOMES</T>
      <T x={685} y={780.7} s={7} b it>TIGIT</T>
      <T x={365} y={932.7} s={7} b it>TNFRSF9</T>
      <T x={524.3} y={932.7} s={7} b it>SLAMF6</T>
      <T x={684.3} y={932.7} s={7} b it>PDCD1</T>
      <T x={280.7} y={838} s={7} b r>log<sub style={{ fontSize: 5 }}>2</sub>CPM</T>
      <T x={440} y={838} s={7} b r>log<sub style={{ fontSize: 5 }}>2</sub>CPM</T>
      <T x={601.7} y={840} s={7} b r>log<sub style={{ fontSize: 5 }}>2</sub>CPM</T>
      <T x={279.3} y={996.7} s={7} b r>log<sub style={{ fontSize: 5 }}>2</sub>CPM</T>
      <T x={440} y={997} s={7} b r>log<sub style={{ fontSize: 5 }}>2</sub>CPM</T>
      <T x={598.3} y={997} s={7} b r>log<sub style={{ fontSize: 5 }}>2</sub>CPM</T>

      <ViolinPlot x0={297.3} c={[318, 348, 377, 410]} end={428} yTop={785.7} yBot={895.3} domain={[0, 8]} ticks={ticksE8} prof={klrg1Vio} q={klrg1Q} br={[['P = 0.0763', 6.76], ['P = 0.0101', 4.09]]} />
      <ViolinPlot x0={457.3} c={[478.3, 509.3, 540, 570]} end={588} yTop={785.7} yBot={895.3} domain={[0, 8]} ticks={ticksE8} prof={eomesVio} q={eomesQ} br={[['P = 0.1903', 7.32], ['P = 0.0015', 6.03]]} />
      <ViolinPlot x0={617.3} c={[639, 670, 701.7, 731.7]} end={746} yTop={789.3} yBot={898} domain={[0, 8]} ticks={ticksE8} prof={tigitVio} q={tigitQ} br={[['P = 0.0433', 7.37], ['P = 0.0021', 5.42]]} />
      <ViolinPlot x0={296} c={[316, 348.3, 380, 410]} end={428} yTop={942} yBot={1050} domain={[0, 6]} ticks={ticksE6} prof={tnfrsf9Vio} q={tnfrsf9Q} br={[['P = 0.7618', 5.87], ['P = 0.0076', 4.03]]} />
      <ViolinPlot x0={457.3} c={[480, 511, 542.7, 573.3]} end={588} yTop={942.3} yBot={1050} domain={[0, 8]} ticks={ticksE8} prof={slamf6Vio} q={slamf6Q} br={[['P = 0.0006', 7.85], ['P = 0.0464', 5.45]]} />
      <ViolinPlot x0={617.3} c={[637.7, 669.3, 700.7, 730.7]} end={746} yTop={941.7} yBot={1050} domain={[0, 6]} ticks={ticksE6} prof={pdcd1Vio} q={pdcd1Q} br={[['P = 0.0015', 5.5], ['P = 0.0653', 3.97]]} />
    </div>
  );
}
